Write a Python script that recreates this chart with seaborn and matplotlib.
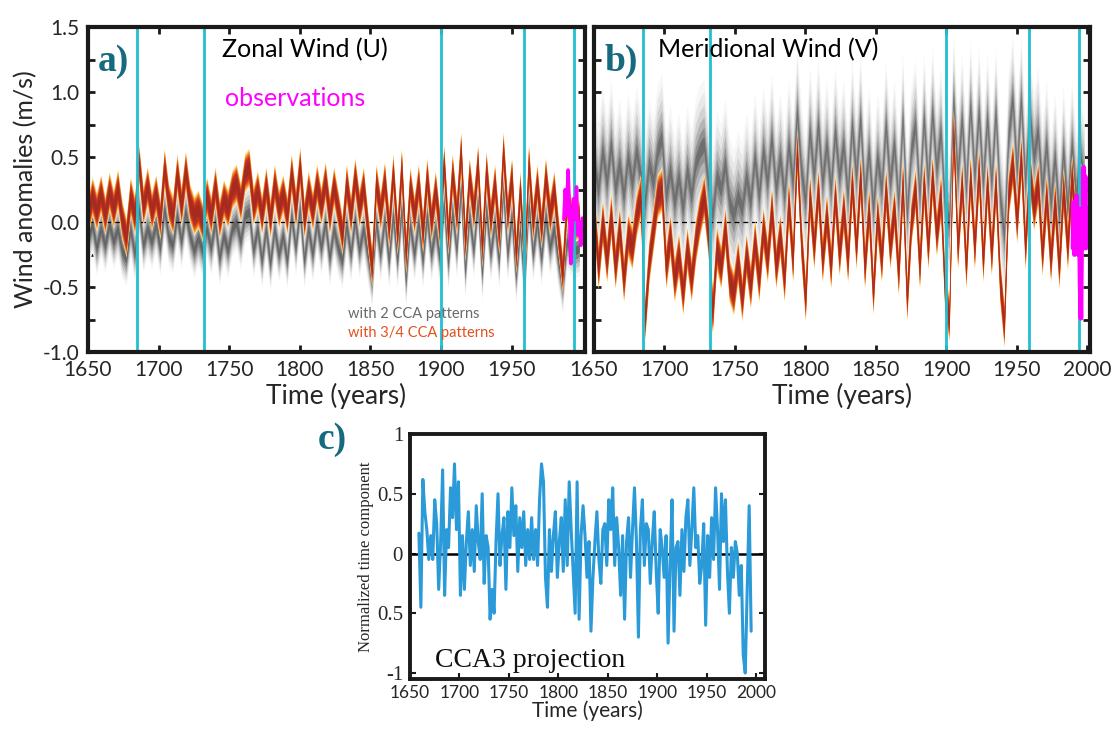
import numpy as np
import matplotlib
matplotlib.use("Agg")
import matplotlib.pyplot as plt
import seaborn as sns

# ---------------- data ----------------
# ensemble-centre of reconstructed zonal wind, 3-yearly from 1650
red_a = [0.05, 0.20, 0.08, 0.22, 0.05, 0.24, 0.10, 0.26, 0.02, -0.12,
         0.20, 0.05, 0.45, 0.12, 0.28, 0.08, 0.22, 0.02, 0.42, 0.15,
         0.05, 0.38, 0.12, 0.40, 0.15, 0.05, 0.10, 0.00, 0.20, 0.05,
         0.28, 0.02, 0.18, 0.10, 0.25, 0.30, 0.15, 0.38, 0.42, 0.12,
         0.25, 0.05, 0.28, 0.02, 0.30, 0.10, 0.22, 0.05, 0.38, 0.10,
         0.43, 0.02, 0.25, 0.08, 0.30, 0.12, 0.32, 0.05, 0.28, 0.10,
         -0.10, 0.30, 0.05, 0.35, 0.10, 0.28, -0.05, -0.35, 0.30, 0.08,
         0.32, -0.05, 0.38, -0.10, 0.42, -0.25, 0.28, 0.05, 0.30, -0.08,
         0.35, 0.00, 0.25, -0.05, 0.45, -0.10, 0.38, 0.05, 0.55, -0.15,
         0.35, 0.08, 0.45, -0.20, 0.40, 0.02, 0.30, -0.10, 0.55, 0.05,
         0.35, -0.25, 0.25, -0.35, 0.45, 0.00, 0.30, -0.05, 0.35, 0.05,
         0.25, -0.10, -0.40, 0.15, 0.05, 0.00, 0.02]
gray_a = [-0.12, -0.02, -0.20, -0.05, -0.18, -0.02, -0.15, -0.05, -0.22, -0.28,
          -0.05, -0.25, 0.10, -0.18, -0.05, -0.15, -0.02, -0.20, 0.10, -0.12,
          -0.18, 0.05, -0.15, 0.08, -0.10, -0.22, -0.12, -0.22, -0.05, -0.20,
          0.00, -0.28, -0.10, -0.22, -0.05, 0.00, -0.15, 0.05, 0.08, -0.22,
          -0.05, -0.30, -0.05, -0.32, -0.05, -0.25, -0.10, -0.30, 0.05, -0.20,
          0.10, -0.30, -0.05, -0.25, 0.00, -0.20, 0.00, -0.28, -0.05, -0.20,
          -0.30, -0.02, -0.25, 0.02, -0.22, -0.05, -0.25, -0.45, 0.00, -0.25,
          0.02, -0.30, 0.05, -0.30, 0.10, -0.45, -0.02, -0.25, 0.00, -0.30,
          0.05, -0.25, -0.05, -0.28, 0.15, -0.32, 0.08, -0.22, 0.25, -0.38,
          0.05, -0.22, 0.15, -0.40, 0.10, -0.25, 0.00, -0.30, 0.25, -0.25,
          0.05, -0.42, -0.05, -0.50, 0.15, -0.25, 0.00, -0.28, 0.05, -0.20,
          -0.05, -0.30, -0.50, -0.15, -0.20, -0.22, -0.20]
# meridional wind
red_b = [0.07, -0.35, 0.00, -0.30, 0.05, -0.35, -0.05, -0.45, -0.10, -0.20,
         0.05, 0.20, -0.75, -0.30, -0.05, 0.20, 0.25, -0.35, -0.10, -0.45,
         -0.25, -0.55, -0.20, -0.45, -0.15, 0.05, 0.20, -0.10, -0.70, -0.20,
         -0.35, -0.05, -0.45, -0.55, -0.30, -0.60, -0.25, -0.50, -0.15, -0.45,
         -0.05, -0.30, 0.10, -0.35, -0.10, -0.45, 0.15, -0.30, 0.55, -0.15,
         -0.60, 0.20, -0.20, 0.25, -0.30, 0.05, -0.35, 0.20, -0.25, 0.10,
         -0.30, 0.30, -0.20, 0.35, -0.35, 0.10, -0.55, 0.05, -0.30, 0.25,
         -0.20, 0.10, -0.40, 0.30, -0.60, 0.00, 0.25, -0.35, 0.30, -0.20,
         0.35, -0.10, 0.20, -0.55, -0.75, 0.70, -0.20, 0.30, -0.35, 0.35,
         -0.20, 0.40, -0.30, 0.30, -0.25, 0.30, -0.45, -0.80, 0.20, 0.45,
         0.00, 0.50, -0.20, 0.40, 0.10, 0.30, -0.25, 0.20, -0.30, 0.15,
         -0.35, 0.25, -0.20, 0.35, -0.10, 0.30, 0.15]
gray_b = [0.45, 0.25, 0.55, 0.30, 0.60, 0.25, 0.45, 0.20, 0.50, 0.30,
          0.55, 0.35, 0.15, 0.45, 0.30, 0.55, 0.65, 0.20, 0.40, 0.15,
          0.35, 0.10, 0.40, 0.20, 0.45, 0.55, 0.60, 0.30, 0.05, 0.35,
          0.25, 0.45, 0.15, 0.05, 0.20, 0.10, 0.35, 0.15, 0.50, 0.20,
          0.55, 0.30, 0.65, 0.25, 0.50, 0.20, 0.60, 0.30, 0.85, 0.40,
          0.15, 0.70, 0.35, 0.75, 0.30, 0.60, 0.25, 0.70, 0.35, 0.60,
          0.20, 0.75, 0.35, 0.80, 0.20, 0.55, 0.10, 0.50, 0.25, 0.75,
          0.30, 0.60, 0.15, 0.80, 0.05, 0.55, 0.75, 0.20, 0.80, 0.30,
          0.85, 0.40, 0.70, 0.10, 0.00, 0.95, 0.35, 0.80, 0.25, 0.90,
          0.35, 0.85, 0.30, 0.80, 0.30, 0.85, 0.20, -0.10, 0.65, 0.95,
          0.40, 0.95, 0.30, 0.85, 0.50, 0.70, 0.25, 0.60, 0.15, 0.50,
          0.05, 0.55, 0.10, 0.60, 0.20, 0.50, 0.30]

cyan_years = [1685, 1732, 1900, 1959, 1994]

obs_a_years = [1987, 1988, 1989, 1990, 1991, 1992, 1993, 1994, 1995, 1996,
               1997, 1998, 1999, 2000]
obs_a_vals = [0.02, 0.25, 0.05, 0.40, 0.10, -0.32, -0.05, 0.18, 0.02, 0.27,
              -0.10, 0.00, -0.18, 0.03]
obs_b_years = [1990, 1990.5, 1991, 1991.5, 1992, 1992.5, 1993, 1993.5, 1994,
               1994.5, 1995, 1995.5, 1996, 1996.5, 1997, 1997.5, 1998, 1998.5,
               1999, 1999.5, 2000]
obs_b_vals = [-0.20, 0.15, -0.25, 0.10, -0.15, 0.20, -0.20, 0.05, -0.25, 0.10,
              -0.45, -0.74, -0.10, 0.10, -0.20, 0.42, -0.05, 0.35, -0.20, 0.10,
              -0.15]

# CCA3 projection, 2-yearly from 1659
cca3 = [0.17, -0.45, 0.62, 0.35, 0.20, -0.05, 0.15, -0.05, 0.45, 0.25,
        -0.30, 0.10, 0.70, -0.35, 0.20, 0.05, 0.55, 0.30, 0.75, 0.20,
        0.60, -0.35, 0.15, -0.30, 0.10, 0.35, -0.10, 0.20, -0.15, 0.40,
        0.10, -0.05, 0.50, -0.25, 0.15, 0.05, -0.55, -0.30, -0.50, 0.10,
        0.50, -0.10, 0.15, 0.30, -0.30, 0.35, 0.05, 0.55, 0.15, 0.40,
        -0.15, 0.30, 0.05, 0.35, -0.10, 0.20, -0.05, 0.30, -0.05, 0.20,
        -0.10, 0.45, 0.75, 0.60, -0.20, -0.45, 0.20, -0.15, 0.15, 0.35,
        -0.20, 0.10, 0.30, -0.15, 0.45, -0.10, 0.60, 0.20, -0.15, -0.50,
        0.60, -0.55, 0.15, 0.40, 0.15, -0.20, 0.10, -0.65, -0.20, 0.10,
        0.35, -0.05, -0.25, 0.20, 0.25, -0.10, 0.45, 0.20, 0.55, -0.10,
        0.30, 0.05, -0.35, 0.15, -0.55, 0.10, 0.30, -0.20, 0.20, 0.55,
        0.10, -0.70, 0.20, 0.45, -0.10, 0.25, 0.20, -0.25, 0.10, 0.35,
        -0.15, -0.50, 0.20, 0.05, -0.20, 0.15, -0.75, -0.10, 0.45, -0.65,
        0.05, 0.10, -0.35, 0.20, -0.15, 0.30, 0.45, -0.10, 0.20, 0.55,
        0.05, 0.15, -0.25, -0.10, 0.25, -0.60, 0.15, -0.20, 0.30, -0.05,
        0.55, 0.20, -0.30, 0.50, 0.10, 0.45, -0.15, -0.50, 0.05, -0.20,
        0.10, 0.00, -0.35, -0.10, -0.85, -1.00, -0.30, 0.40, -0.65]

yr_red_a = np.arange(1650, 1650 + 3 * len(red_a), 3)
yr_gray_a = np.arange(1650, 1650 + 3 * len(gray_a), 3)
yr_red_b = np.arange(1650, 1650 + 3 * len(red_b), 3)
yr_gray_b = np.arange(1650, 1650 + 3 * len(gray_b), 3)
yr_cca3 = np.arange(1659, 1659 + 2 * len(cca3), 2)

# ---------------- style ----------------
sns.set_theme(style="ticks")
plt.rcParams['font.family'] = ['Lato', 'DejaVu Sans']

W, H = 1112, 729
fig = plt.figure(figsize=(W / 100, H / 100), dpi=100)

RED_LAYERS = [(1.0, '#fde3b2'), (0.9, '#f8b044'), (0.8, '#ee7c22'),
              (0.68, '#d9471b'), (0.55, '#b83020'), (0.3, '#a52a1f')]
GRAY_LAYERS_A = [(1.0, '#f5f5f5'), (0.82, '#e2e2e2'), (0.64, '#c8c8c8'),
                 (0.48, '#a8a8a8'), (0.32, '#858585'), (0.16, '#656565')]
GRAY_LAYERS_B = [(1.0, '#f7f7f7'), (0.8, '#e8e8e8'), (0.6, '#d2d2d2'),
                 (0.42, '#b4b4b4'), (0.26, '#919191'), (0.12, '#6f6f6f')]
CYAN = '#22bfd0'
TEAL = '#166a7f'
SPINE = '#1a1a1a'


def fan(ax, x, c, hw, layers, z):
    c = np.asarray(c, dtype=float)
    for k, col in layers:
        ax.fill_between(x, c - hw * k, c + hw * k, color=col, lw=0,
                        zorder=z)


def style_top_axes(ax):
    ax.set_xlim(1650, 2002)
    ax.set_ylim(-1.0, 1.5)
    ax.set_yticks([-1.0, -0.5, 0.0, 0.5, 1.0, 1.5])
    ax.set_yticks([-0.75, -0.25, 0.25, 0.75, 1.25], minor=True)
    ax.tick_params(axis='both', which='both', direction='in', top=True,
                   right=True, length=5, width=2, color=SPINE,
                   labelsize=15, pad=6)
    for s in ax.spines.values():
        s.set_linewidth(3)
        s.set_color(SPINE)
        s.set_zorder(10)
    ax.axhline(0, color='black', lw=0.9, ls=(0, (4, 3)), zorder=2)
    for cy in cyan_years:
        ax.axvline(cy, color=CYAN, lw=2, zorder=6)


# ---------------- panel a ----------------
ax_a = fig.add_axes([88 / W, 1 - 352 / H, 497 / W, 325 / H])
fan(ax_a, yr_gray_a, gray_a, 0.21, GRAY_LAYERS_A, 1)
fan(ax_a, yr_red_a, red_a, 0.15, RED_LAYERS, 3)
style_top_axes(ax_a)
sns.lineplot(x=obs_a_years, y=obs_a_vals, ax=ax_a, color='#ff00ff', lw=2.5,
             zorder=8)
ax_a.set_xticks([1650, 1700, 1750, 1800, 1850, 1900, 1950])
ax_a.set_yticklabels(['-1.0', '-0.5', '0.0', '0.5', '1.0', '1.5'])
ax_a.set_xlabel('Time (years)', fontsize=19, labelpad=2)
ax_a.set_ylabel('Wind anomalies (m/s)', fontsize=18, labelpad=4)
ax_a.text(0.02, 0.895, 'a)', transform=ax_a.transAxes, fontsize=27,
          fontweight='bold', family=['Liberation Serif'], color=TEAL,
          va='center', ha='left', zorder=12)
ax_a.text(0.27, 0.93, 'Zonal Wind (U)', transform=ax_a.transAxes,
          fontsize=18, color='black', va='center', ha='left', zorder=12)
ax_a.text(0.275, 0.78, 'observations', transform=ax_a.transAxes,
          fontsize=18, color='#ff00ff', va='center', ha='left', zorder=12)
ax_a.text(0.523, 0.117, 'with 2 CCA patterns', transform=ax_a.transAxes,
          fontsize=10.5, color='#6a6a6a', va='center', ha='left', zorder=12)
ax_a.text(0.523, 0.058, 'with 3/4 CCA patterns', transform=ax_a.transAxes,
          fontsize=10.5, color='#e2511c', va='center', ha='left', zorder=12)

# ---------------- panel b ----------------
ax_b = fig.add_axes([594 / W, 1 - 352 / H, 496 / W, 325 / H])
fan(ax_b, yr_gray_b, gray_b, 0.5, GRAY_LAYERS_B, 1)
fan(ax_b, yr_red_b, red_b, 0.17, RED_LAYERS, 3)
style_top_axes(ax_b)
sns.lineplot(x=obs_b_years, y=obs_b_vals, ax=ax_b, color='#ff00ff', lw=3.5,
             zorder=8)
ax_b.set_xticks([1650, 1700, 1750, 1800, 1850, 1900, 1950, 2000])
ax_b.set_yticklabels([])
ax_b.set_xlabel('Time (years)', fontsize=19, labelpad=2)
ax_b.set_ylabel('')
ax_b.text(0.022, 0.895, 'b)', transform=ax_b.transAxes, fontsize=27,
          fontweight='bold', family=['Liberation Serif'], color=TEAL,
          va='center', ha='left', zorder=12)
ax_b.text(0.13, 0.93, 'Meridional Wind (V)', transform=ax_b.transAxes,
          fontsize=18, color='black', va='center', ha='left', zorder=12)

# ---------------- panel c ----------------
ax_c = fig.add_axes([410 / W, 1 - 679 / H, 355 / W, 245 / H])
ax_c.axhline(0, color='black', lw=1.8, zorder=2)
sns.lineplot(x=yr_cca3, y=cca3, ax=ax_c, color='#2a9ad8', lw=2.2, zorder=3)
ax_c.set_xlim(1650, 2009)
ax_c.set_ylim(-1.05, 1.0)
ax_c.set_xticks([1650, 1700, 1750, 1800, 1850, 1900, 1950, 2000])
ax_c.set_yticks([-1, -0.5, 0, 0.5, 1])
ax_c.set_yticklabels(['-1', '0.5', '0', '0.5', '1'],
                     family=['Liberation Serif'], fontsize=15)
ax_c.tick_params(axis='both', which='both', direction='in', right=True,
                 top=False, length=4, width=1.5, color=SPINE, pad=5)
ax_c.tick_params(axis='x', labelsize=12.5, pad=4)
for s in ax_c.spines.values():
    s.set_linewidth(2.8)
    s.set_color(SPINE)
ax_c.set_xlabel('Time (years)', fontsize=15, labelpad=0)
ax_c.set_ylabel('Normalized time component', fontsize=12,
                family=['Liberation Serif'], labelpad=2)
ax_c.text(0.07, 0.05, 'CCA3 projection', transform=ax_c.transAxes,
          fontsize=20, family=['Liberation Serif'], color='#111111',
          va='baseline', ha='left', zorder=12)
fig.text(318 / W, 1 - 440 / H, 'c)', fontsize=27, fontweight='bold',
         family=['Liberation Serif'], color=TEAL, va='center', ha='left')

fig.savefig('out.png', dpi=100)
